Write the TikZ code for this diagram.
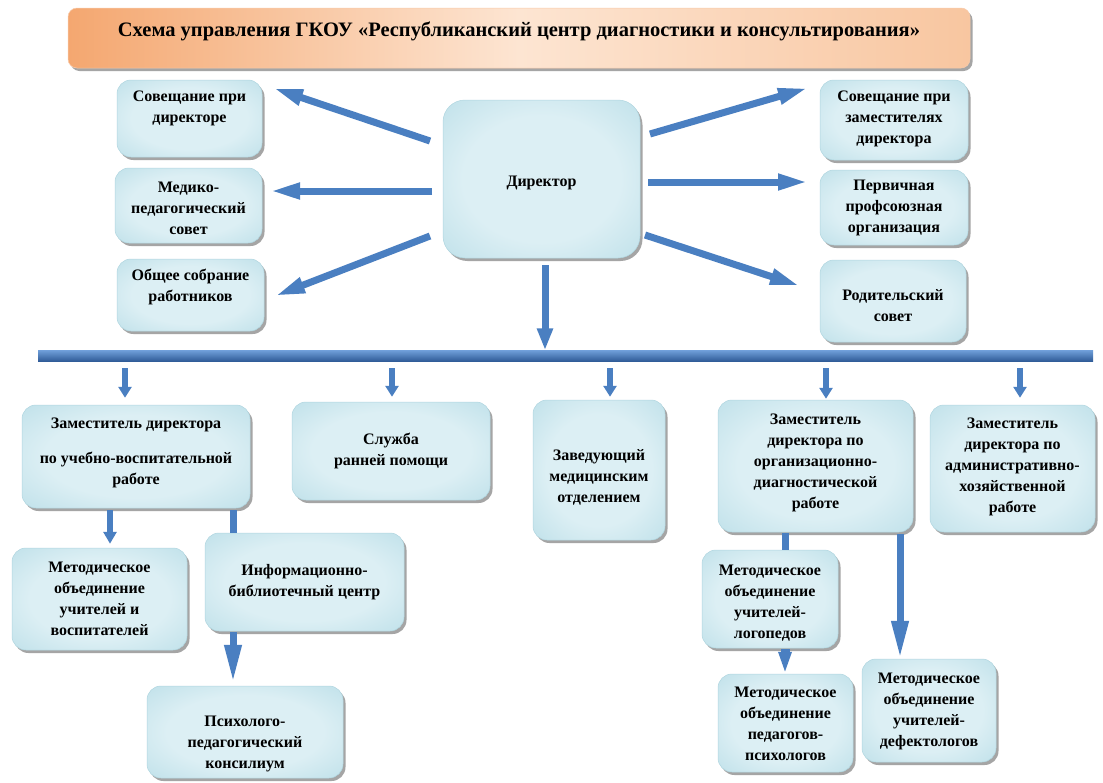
\documentclass[tikz,border=0pt]{standalone}
\usepackage{fontspec}
\setmainfont{Liberation Serif}
\usetikzlibrary{arrows.meta,shadows,calc}
\definecolor{boxin}{HTML}{DCEFF4}
\definecolor{boxmid}{HTML}{B0D9E4}
\definecolor{boxout}{HTML}{7CBACB}
\definecolor{arr}{HTML}{4A7FC1}
\definecolor{barTop}{HTML}{6E9DD8}
\definecolor{barBot}{HTML}{2E5A96}
\definecolor{titleL}{HTML}{F4A770}
\definecolor{titleM}{HTML}{FDE5D2}
\definecolor{titleR}{HTML}{F8C6A0}
\pgfdeclareradialshading{boxsh}{\pgfpoint{0bp}{0bp}}{color(0bp)=(boxin); color(20bp)=(boxin); color(45bp)=(boxmid); color(72bp)=(boxout)}
\begin{document}
\begin{tikzpicture}[x=1pt,y=-1pt,
  box/.style={rounded corners=14pt, shade, shading=boxsh, draw=boxout!60!white, line width=0.5pt,
    inner sep=0pt, drop shadow={shadow xshift=2.5pt,shadow yshift=-3pt,opacity=0.5,fill=black!70}},
  txt/.style={font=\bfseries\fontsize{16}{21}\selectfont, align=center, inner sep=0pt},
  bigarrow/.style={draw=arr, line width=7pt, -{Triangle[length=30pt,width=15pt]}},
  smallarrow/.style={draw=arr, line width=6.5pt, -{Triangle[length=11pt,width=13pt]}},
  midarrow/.style={draw=arr, line width=7pt, -{Triangle[length=38pt,width=16pt]}},
  stem/.style={draw=arr, line width=7pt}
]
\useasboundingbox (0,0) rectangle (1103,782);
\fill[white] (0,0) rectangle (1103,782);

% title
\node[rounded corners=9pt, left color=titleL, right color=titleR, middle color=titleM,
  draw=titleL!60!white, line width=0.5pt, minimum width=902pt, minimum height=60pt, inner sep=0pt,
  drop shadow={shadow xshift=2.5pt,shadow yshift=-3pt,opacity=0.5,fill=black!70}] (title) at (519,38) {};
\node[font=\bfseries\fontsize{20.5}{24}\selectfont, inner sep=0pt] (titlet) at (519,31)
  {Схема управления ГКОУ «Республиканский центр диагностики и консультирования»};

% top boxes
\node[box, minimum width=145pt, minimum height=77pt] (b1) at (189.5,118.5) {};
\node[txt] (b1t) at (189.5,108) {Совещание при\\директоре};
\node[box, minimum width=147pt, minimum height=75pt] (b2) at (188.5,205.5) {};
\node[txt] (b2t) at (188.5,208) {Медико-\\педагогический\\совет};
\node[box, minimum width=147pt, minimum height=72pt] (b3) at (190.5,295) {};
\node[txt] (b3t) at (190.5,287) {Общее собрание\\работников};

\node[box, rounded corners=22pt, minimum width=197pt, minimum height=158pt] (dir) at (541.5,179) {};
\node[txt] (dirt) at (541.5,183) {Директор};

\node[box, minimum width=148pt, minimum height=80pt] (r1) at (894,120) {};
\node[txt] (r1t) at (894,119) {Совещание при\\заместителях\\директора};
\node[box, minimum width=148pt, minimum height=75pt] (r2) at (894,207.5) {};
\node[txt] (r2t) at (894,208) {Первичная\\профсоюзная\\организация};
\node[box, minimum width=146pt, minimum height=82pt] (r3) at (893,301) {};
\node[txt] (r3t) at (893,306) {Родительский\\совет};

% bar
\node[top color=barTop, bottom color=barBot, minimum width=1055pt, minimum height=11pt, inner sep=0pt] (bar) at (565.5,356) {};

% middle row
\node[box, minimum width=228pt, minimum height=103pt] (m1) at (136,456.5) {};
\node[txt] (m1t) at (136,453) {Заместитель директора\\[14pt]по учебно-воспитательной\\работе};
\node[box, minimum width=198pt, minimum height=98pt] (m2) at (391,451) {};
\node[txt] (m2t) at (391,451) {Служба\\ранней помощи};
\node[box, minimum width=132pt, minimum height=140pt] (m3) at (599,470) {};
\node[txt] (m3t) at (599,477) {Заведующий\\медицинским\\отделением};
\node[box, minimum width=195pt, minimum height=132pt] (m4) at (815.5,466) {};
\node[txt] (m4t) at (815.5,463) {Заместитель\\директора по\\организационно-\\диагностической\\работе};
\node[box, minimum width=165pt, minimum height=127pt] (m5) at (1012.5,468.5) {};
\node[txt] (m5t) at (1012.5,467) {Заместитель\\директора по\\административно-\\хозяйственной\\работе};

% lower row
\node[box, minimum width=175pt, minimum height=102pt] (l1) at (99.5,599) {};
\node[txt] (l1t) at (99.5,599) {Методическое\\объединение\\учителей и\\воспитателей};
\node[box, minimum width=199pt, minimum height=98pt] (l2) at (304.5,582) {};
\node[txt] (l2t) at (304.5,582) {Информационно-\\библиотечный центр};
\node[box, minimum width=196pt, minimum height=92pt] (l3) at (245,732) {};
\node[txt] (l3t) at (245,744) {Психолого-\\педагогический\\консилиум};

\node[box, minimum width=136pt, minimum height=98pt] (k1) at (770,599) {};
\node[txt] (k1t) at (770,603) {Методическое\\объединение\\учителей-\\логопедов};
\node[box, minimum width=135pt, minimum height=98pt] (k2) at (785.5,723) {};
\node[txt] (k2t) at (785.5,724) {Методическое\\объединение\\педагогов-\\психологов};
\node[box, minimum width=134pt, minimum height=103pt] (k3) at (929,710.5) {};
\node[txt] (k3t) at (929,711) {Методическое\\объединение\\учителей-\\дефектологов};

% arrows from director
\coordinate (a1s) at (430,141); \coordinate (a1e) at (273,88);
\coordinate (a2s) at (432,191); \coordinate (a2e) at (270,191);
\coordinate (a3s) at (430,236); \coordinate (a3e) at (275,296);
\coordinate (a4s) at (650,134); \coordinate (a4e) at (808,88);
\coordinate (a5s) at (648,182); \coordinate (a5e) at (808,182);
\coordinate (a6s) at (645,235); \coordinate (a6e) at (800,286);
\draw[bigarrow] (a1s) -- (a1e);
\draw[bigarrow] (a2s) -- (a2e);
\draw[bigarrow] (a3s) -- (a3e);
\draw[bigarrow] (a4s) -- (a4e);
\draw[bigarrow] (a5s) -- (a5e);
\draw[bigarrow] (a6s) -- (a6e);
\draw[bigarrow, -{Triangle[length=22pt,width=15pt]}] ([yshift=-7pt]dir.south -| 545,0) -- (bar.north -| 545,0);

% arrows from bar
\coordinate (s1) at (125,368);
\coordinate (s2) at (392,368);
\coordinate (s3) at (610,368);
\coordinate (s4) at (826,368);
\coordinate (s5) at (1020,368);
\draw[smallarrow] (s1) -- ([yshift=7pt]s1 |- m1.north);
\draw[smallarrow] (s2) -- ([yshift=5pt]s2 |- m2.north);
\draw[smallarrow] (s3) -- ([yshift=3pt]s3 |- m3.north);
\draw[smallarrow] (s4) -- ([yshift=1pt]s4 |- m4.north);
\draw[smallarrow] (s5) -- ([yshift=7pt]s5 |- m5.north);

% lower arrows
\coordinate (u1) at (110,510);
\coordinate (u2) at (233,510);
\coordinate (u3) at (233,632);
\coordinate (v1) at (785,533);
\coordinate (v2) at (785,649);
\coordinate (v3) at (900,534);
\draw[smallarrow, -{Triangle[length=12pt,width=13pt]}] (u1) -- ([yshift=4pt]u1 |- l1.north);
\draw[stem] (u2) -- (u2 |- l2.north);
\draw[midarrow] (u3) -- ([yshift=3pt]u3 |- l3.north);
\draw[stem] (v1) -- (v1 |- k1.north);
\draw[draw=arr, line width=9pt, -{Triangle[length=22pt,width=12pt]}] (v2) -- (v2 |- k2.north);
\draw[midarrow] (v3) -- (v3 |- k3.north);
\end{tikzpicture}
\end{document}
